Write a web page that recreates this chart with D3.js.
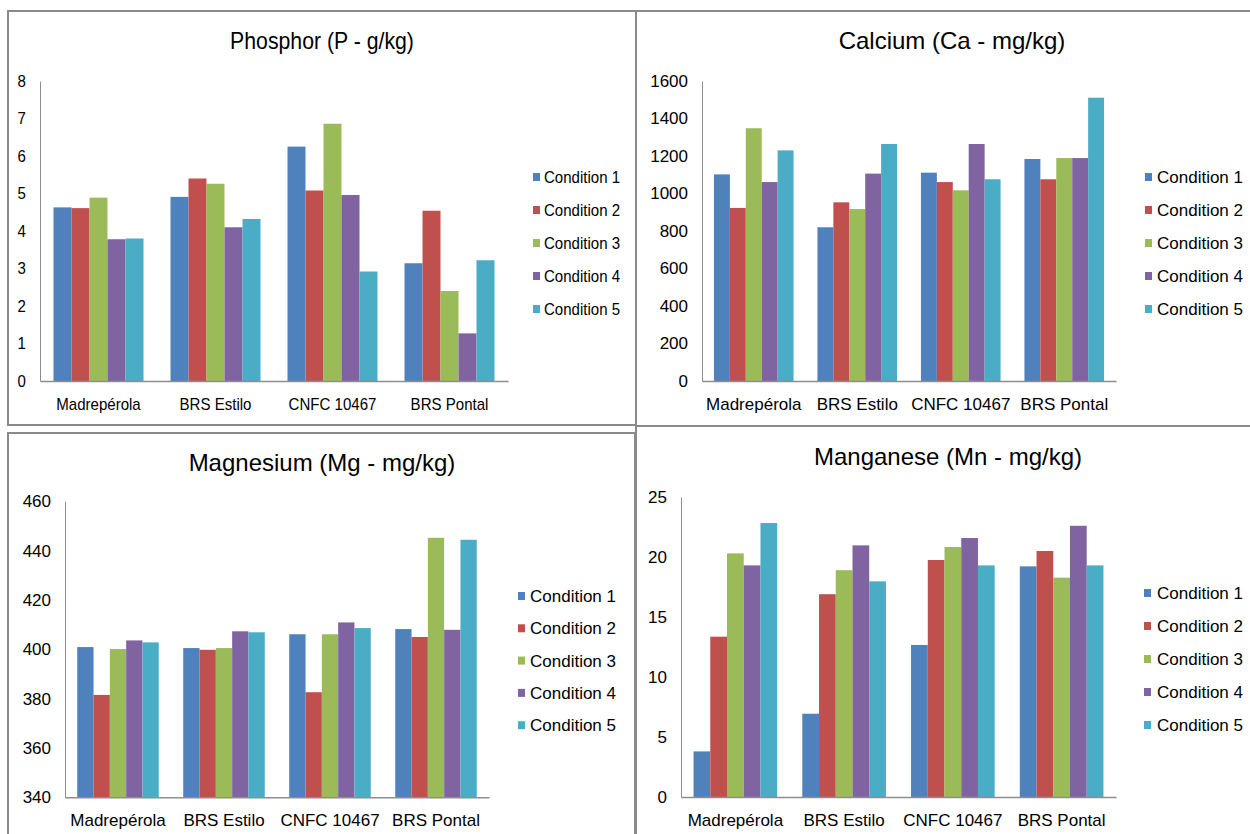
<!DOCTYPE html>
<html>
<head>
<meta charset="utf-8">
<script src="https://cdn.jsdelivr.net/npm/d3@7"></script>
<style>
  html, body { margin: 0; padding: 0; background: #fff; }
  svg { display: block; font-family: "Liberation Sans", Arial, sans-serif; }
</style>
</head>
<body>
<svg id="chart" width="1250" height="834"></svg>
<script>
// ---------------- data ----------------
const categories = ["Madrepérola", "BRS Estilo", "CNFC 10467", "BRS Pontal"];
const seriesNames = ["Condition 1", "Condition 2", "Condition 3", "Condition 4", "Condition 5"];
const seriesColors = ["#4F81BD", "#C0504D", "#9BBB59", "#8064A2", "#4BACC6"];

// rows = categories, columns = Condition 1..5
const phosphorValues = [
  [4.63, 4.61, 4.89, 3.78, 3.80],
  [4.91, 5.40, 5.26, 4.10, 4.32],
  [6.25, 5.08, 6.86, 4.96, 2.92],
  [3.14, 4.54, 2.40, 1.27, 3.22]
];
const calciumValues = [
  [1102, 923, 1348, 1061, 1230],
  [820, 953, 917, 1106, 1264],
  [1111, 1061, 1017, 1264, 1076],
  [1184, 1076, 1189, 1189, 1511]
];
const magnesiumValues = [
  [400.9, 381.5, 400.1, 403.6, 402.8],
  [400.5, 399.8, 400.5, 407.3, 406.9],
  [406.1, 382.6, 406.1, 410.9, 408.6],
  [408.2, 405.0, 445.2, 407.9, 444.4]
];
const manganeseValues = [
  [3.8, 13.36, 20.3, 19.3, 22.83],
  [6.94, 16.9, 18.9, 20.97, 17.97],
  [12.67, 19.75, 20.83, 21.58, 19.3],
  [19.22, 20.5, 18.28, 22.6, 19.3]
];

const phosphorTicks = [0, 1, 2, 3, 4, 5, 6, 7, 8];
const calciumTicks = [0, 200, 400, 600, 800, 1000, 1200, 1400, 1600];
const magnesiumTicks = [340, 360, 380, 400, 420, 440, 460];
const manganeseTicks = [0, 5, 10, 15, 20, 25];

const titles = ["Phosphor (P - g/kg)", "Calcium (Ca - mg/kg)", "Magnesium (Mg - mg/kg)", "Manganese (Mn - mg/kg)"];

// ---------------- layout ----------------
const panels = [
  { title: titles[0], values: phosphorValues, ticks: phosphorTicks,
    border: [8, 11, 636, 425], plot: [40, 508, 81, 381],
    titleX: 322, titleY: 49, legendX: 533, legendTextX: 544, legendY: 177, legendStep: 33,
    catY: 404, font: 17, titleFont: 24, squeeze: 0.885 },
  { title: titles[1], values: calciumValues, ticks: calciumTicks,
    border: [636, 11, 1254, 426], plot: [702, 1116, 81, 381],
    titleX: 952, titleY: 49, legendX: 1145, legendTextX: 1157, legendY: 177, legendStep: 33,
    catY: 404, font: 17, titleFont: 24, squeeze: 1 },
  { title: titles[2], values: magnesiumValues, ticks: magnesiumTicks,
    border: [8, 433, 635, 840], plot: [65, 489, 501.3, 797.3],
    titleX: 322, titleY: 471, legendX: 518, legendTextX: 530, legendY: 596, legendStep: 32.3,
    catY: 820, font: 17, titleFont: 24, squeeze: 1 },
  { title: titles[3], values: manganeseValues, ticks: manganeseTicks,
    border: [636, 426, 1254, 840], plot: [681, 1116, 497, 797],
    titleX: 948, titleY: 465, legendX: 1144, legendTextX: 1157, legendY: 593, legendStep: 33,
    catY: 820, font: 17, titleFont: 24, squeeze: 1 }
];

const svg = d3.select("#chart");
svg.append("rect").attr("width", 1250).attr("height", 834).attr("fill", "#fff");

panels.forEach(p => {
  const g = svg.append("g");
  const [bx0, by0, bx1, by1] = p.border;
  g.append("rect")
    .attr("x", bx0).attr("y", by0)
    .attr("width", bx1 - bx0).attr("height", by1 - by0)
    .attr("fill", "none").attr("stroke", "#8a8a8a").attr("stroke-width", 2);

  const [px0, px1, pTop, pBase] = p.plot;
  const tks = p.ticks;
  const y = d3.scaleLinear().domain([tks[0], tks[tks.length - 1]]).range([pBase, pTop]);
  const x = d3.scaleBand().domain(categories).range([px0, px1])
    .paddingInner(1.5 / 6.5).paddingOuter(0.75 / 6.5);
  const xs = d3.scaleBand().domain(seriesNames).range([0, x.bandwidth()]).padding(0);

  // bars
  const catG = g.selectAll("g.cat").data(categories).enter().append("g")
    .attr("transform", c => `translate(${x(c)},0)`);
  catG.each(function (c, ci) {
    d3.select(this).selectAll("rect").data(p.values[ci]).enter().append("rect")
      .attr("x", (v, si) => xs(seriesNames[si]))
      .attr("width", xs.bandwidth())
      .attr("y", v => y(v))
      .attr("height", v => pBase - y(v))
      .attr("fill", (v, si) => seriesColors[si]);
  });

  // y axis
  const yAxis = d3.axisLeft(y).tickValues(tks).tickSize(0).tickPadding(14)
    .tickFormat(d3.format("d"));
  const yg = g.append("g").attr("transform", `translate(${px0},0)`).call(yAxis);
  yg.select(".domain").attr("stroke", "#8e8e8e").attr("stroke-width", 1);
  yg.selectAll("text").attr("font-size", p.font).attr("fill", "#000")
    .attr("font-family", "'Liberation Sans', Arial, sans-serif");

  // x axis
  const xAxis = d3.axisBottom(x).tickSize(0).tickPadding(0);
  const xg = g.append("g").attr("transform", `translate(0,${pBase})`).call(xAxis);
  xg.select(".domain").attr("stroke", "#8e8e8e").attr("stroke-width", 1.5);
  xg.selectAll("text").attr("font-size", p.font).attr("fill", "#000")
    .attr("font-family", "'Liberation Sans', Arial, sans-serif")
    .attr("y", p.catY - pBase).attr("dy", "0.35em");

  // title
  g.append("text").attr("x", p.titleX).attr("y", p.titleY)
    .attr("text-anchor", "middle").attr("font-size", p.titleFont).attr("fill", "#000")
    .text(p.title);

  // legend
  const lg = g.selectAll("g.leg").data(seriesNames).enter().append("g")
    .attr("transform", (s, i) => `translate(0,${p.legendY + i * p.legendStep})`);
  lg.append("rect").attr("x", p.legendX).attr("y", -4).attr("width", 7).attr("height", 8)
    .attr("fill", (s, i) => seriesColors[i]);
  lg.append("text").attr("x", p.legendTextX).attr("y", 0).attr("dy", "0.35em")
    .attr("font-size", p.font).attr("fill", "#000").text(s => s);

  // horizontally condensed text (first panel is narrower in the source)
  if (p.squeeze !== 1) {
    g.selectAll("text").each(function () {
      const w = this.getComputedTextLength();
      d3.select(this).attr("textLength", w * p.squeeze).attr("lengthAdjust", "spacingAndGlyphs");
    });
  }
});
</script>
</body>
</html>
